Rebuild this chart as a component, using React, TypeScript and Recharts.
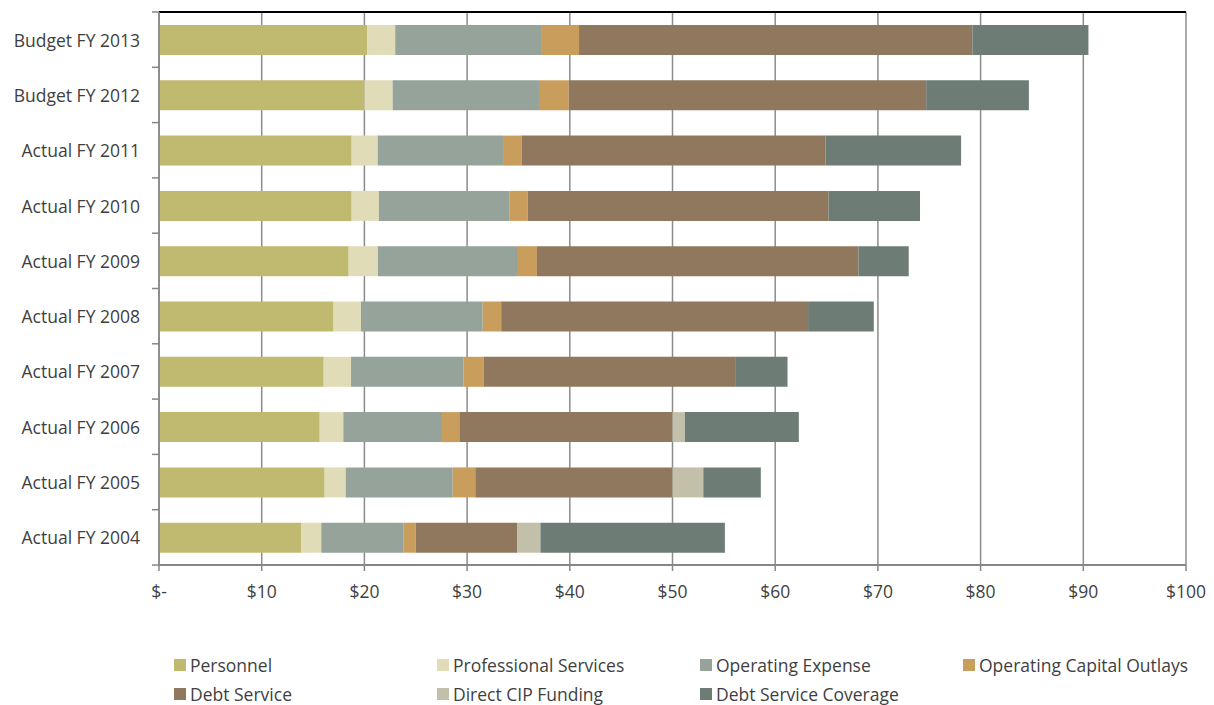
import React from 'react';
import { BarChart, Bar, XAxis, YAxis, CartesianGrid } from 'recharts';

const categories = [
  'Budget FY 2013', 'Budget FY 2012', 'Actual FY 2011', 'Actual FY 2010', 'Actual FY 2009',
  'Actual FY 2008', 'Actual FY 2007', 'Actual FY 2006', 'Actual FY 2005', 'Actual FY 2004',
];
const personnel = [20.3, 20.0, 18.76, 18.76, 18.47, 17.0, 16.04, 15.65, 16.13, 13.83];
const professionalServices = [2.7, 2.75, 2.54, 2.66, 2.85, 2.67, 2.66, 2.3, 2.05, 1.97];
const operatingExpense = [14.2, 14.25, 12.2, 12.73, 13.54, 11.85, 10.97, 9.61, 10.42, 8.03];
const operatingCapitalOutlays = [3.7, 2.9, 1.8, 1.75, 1.94, 1.8, 1.93, 1.69, 2.2, 1.17];
const debtService = [38.3, 34.8, 29.6, 29.3, 31.3, 29.88, 24.5, 20.75, 19.2, 9.86];
const directCIPFunding = [0, 0, 0, 0, 0, 0, 0, 1.2, 3.0, 2.28];
const debtServiceCoverage = [11.3, 10.0, 13.2, 8.9, 4.9, 6.4, 5.1, 11.1, 5.6, 17.96];
const xTicks = [0, 10, 20, 30, 40, 50, 60, 70, 80, 90, 100];

const series = [
  { key: 'personnel', name: 'Personnel', values: personnel, color: '#C0BA70' },
  { key: 'professional', name: 'Professional Services', values: professionalServices, color: '#E0DCB8' },
  { key: 'opex', name: 'Operating Expense', values: operatingExpense, color: '#95A39B' },
  { key: 'oco', name: 'Operating Capital Outlays', values: operatingCapitalOutlays, color: '#C99D5C' },
  { key: 'debt', name: 'Debt Service', values: debtService, color: '#8F785D' },
  { key: 'cip', name: 'Direct CIP Funding', values: directCIPFunding, color: '#C2C0A8' },
  { key: 'coverage', name: 'Debt Service Coverage', values: debtServiceCoverage, color: '#6D7C74' },
];

const data = categories.map((c, i) => {
  const row: Record<string, any> = { category: c };
  series.forEach((s) => { row[s.key] = s.values[i]; });
  return row;
});

const FONT = '"Open Sans", sans-serif';
const TEXT = '#3F3F3F';
const FS = 17.5;
const TOP = 12;
const BOTTOM = 565;
const HALF_BAND = (BOTTOM - TOP) / categories.length / 2;

const YTick = (props: any) => {
  const { x, y, payload, index } = props;
  return (
    <g>
      <text x={x - 19} y={y} textAnchor="end" dominantBaseline="central" fontFamily={FONT} fontSize={FS} fill={TEXT}>
        {payload.value}
      </text>
      <line x1={x - 7} x2={x} y1={y - HALF_BAND} y2={y - HALF_BAND} stroke="#868686" strokeWidth={1.5} />
      {index === categories.length - 1 && (
        <line x1={x - 7} x2={x} y1={y + HALF_BAND} y2={y + HALF_BAND} stroke="#868686" strokeWidth={1.5} />
      )}
    </g>
  );
};

const fmt = (v: number) => (v === 0 ? '$-' : `$${v}`);

const LegendBlock = () => {
  const rows = [series.slice(0, 4), series.slice(4)];
  return (
    <div style={{ position: 'absolute', left: 174, top: 650, width: 1040, fontFamily: FONT, fontSize: FS, color: TEXT }}>
      {rows.map((r, ri) => (
        <div key={ri} style={{ display: 'flex', height: 29, alignItems: 'center' }}>
          {r.map((s) => (
            <div key={s.key} style={{ width: 263, flexShrink: 0, display: 'flex', alignItems: 'center', whiteSpace: 'nowrap' }}>
              <span style={{ display: 'inline-block', width: 12, height: 12, background: s.color, marginRight: 4 }} />
              <span>{s.name}</span>
            </div>
          ))}
        </div>
      ))}
    </div>
  );
};

export default function App() {
  return (
    <div style={{ position: 'absolute', left: 0, top: 0, width: 1214, height: 705, background: '#fff' }}>
      <BarChart
        width={1214}
        height={705}
        data={data}
        layout="vertical"
        margin={{ top: TOP - 1, right: 28, left: 0, bottom: 705 - BOTTOM - 44 }}
        barSize={30}
      >
        <CartesianGrid horizontal={false} vertical stroke="#8C8C8C" strokeWidth={1.5} />
        <XAxis
          type="number"
          domain={[0, 100]}
          ticks={xTicks}
          tickFormatter={fmt}
          interval={0}
          axisLine={{ stroke: '#868686', strokeWidth: 2 }}
          tickLine={{ stroke: '#868686', strokeWidth: 1.5 }}
          tickSize={6}
          tickMargin={15}
          height={44}
          tick={{ fontFamily: FONT, fontSize: FS, fill: TEXT }}
        />
        <XAxis
          xAxisId="top"
          orientation="top"
          type="number"
          domain={[0, 100]}
          tick={false}
          tickLine={false}
          axisLine={{ stroke: '#000', strokeWidth: 2 }}
          height={1}
        />
        <YAxis
          type="category"
          dataKey="category"
          width={159}
          axisLine={{ stroke: '#868686', strokeWidth: 1.5 }}
          tickLine={false}
          tickSize={0}
          tickMargin={0}
          interval={0}
          tick={<YTick />}
        />
        {series.map((s) => (
          <Bar key={s.key} dataKey={s.key} name={s.name} stackId="a" fill={s.color} isAnimationActive={false} />
        ))}
      </BarChart>
      <LegendBlock />
    </div>
  );
}
